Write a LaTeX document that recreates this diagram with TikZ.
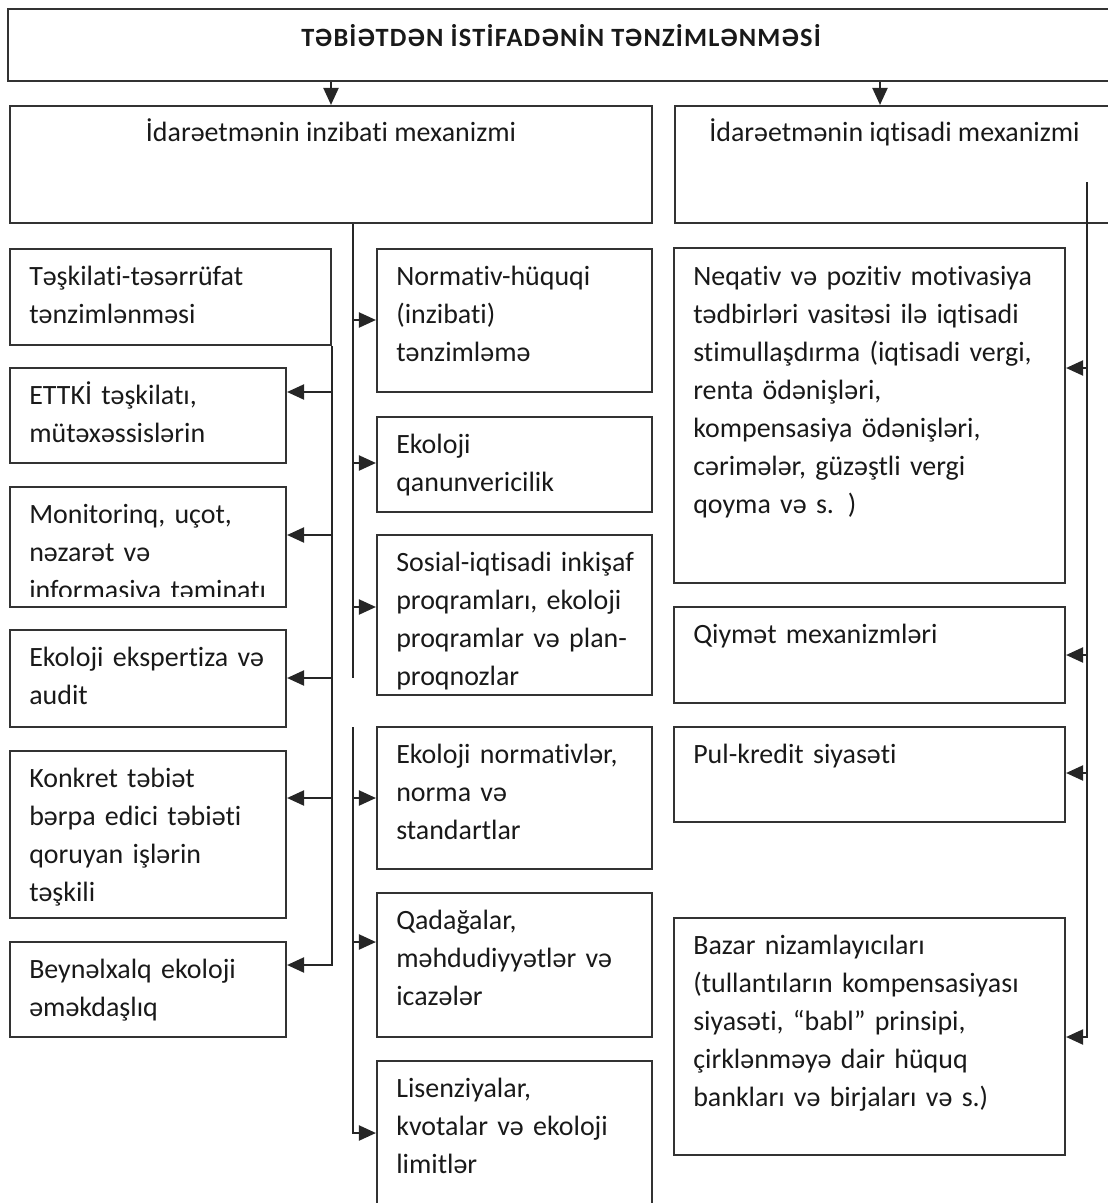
\documentclass[tikz,border=0pt]{standalone}
\usepackage{fontspec}
\setmainfont{Carlito}[Ligatures={NoCommon,NoContextual}]
\usetikzlibrary{arrows.meta,fit,positioning}

\begin{document}
\begin{tikzpicture}[
    x=0.02cm, y=-0.02cm,
    font=\fontsize{15.9}{21.6}\selectfont,
    blk/.style={draw=black!80, line width=1.2pt, rectangle, inner sep=0pt},
    txt/.style={anchor=base west, align=left, text width=7cm, inner sep=0pt, text=black!90},
    hdr/.style={anchor=base, inner sep=0pt, text=black!90},
    arrow/.style={-{Triangle[length=0.34cm,width=0.3cm]}, line width=1.2pt, draw=black!85},
    bus/.style={line width=1.2pt, draw=black!85},
  ]
  \useasboundingbox (0,0) rectangle (1108,1203);

  % top level
  \node[blk, fit={(8,9) (1114,81)}] (title) {};
  \node[hdr, font=\fontsize{15}{18}\selectfont\bfseries\addfontfeature{LetterSpace=4.5}] (title-t) at (561,47) {TƏBİƏTDƏN İSTİFADƏNİN TƏNZİMLƏNMƏSİ};
  \node[blk, fit={(10,106) (652,223)}] (idare) {};
  \node[blk, fit={(675,106) (1114,223)}] (iqtis) {};
  \node[hdr] (idare-t) at ([shift={(0,37)}]idare.north) {İdarəetmənin inzibati mexanizmi};
  \node[hdr] (iqtis-t) at ([shift={(0,37)}]iqtis.north) {İdarəetmənin iqtisadi mexanizmi};

  % left column
  \node[blk, fit={(10,249) (331,345)}] (teskil) {};
  \node[blk, fit={(10,368) (286,463)}] (ettki) {};
  \node[blk, fit={(10,487) (286,607)}] (monit) {};
  \node[blk, fit={(10,630) (286,727)}] (ekspert) {};
  \node[blk, fit={(10,751) (286,918)}] (konkret) {};
  \node[blk, fit={(10,942) (286,1037)}] (beyn) {};

  \node[txt] (teskil-t) at ([shift={(20,38)}]teskil.north west) {Təşkilati-təsərrüfat\\tənzimlənməsi};
  \node[txt] (ettki-t) at ([shift={(20,38)}]ettki.north west) {ETTKİ təşkilatı,\\mütəxəssislərin};
  \begin{scope}
    \clip (monit.north west) rectangle ([shift={(0,-12)}]monit.south east);
    \node[txt] (monit-t) at ([shift={(20,38)}]monit.north west) {Monitorinq, uçot,\\nəzarət və\\informasiya təminatı};
  \end{scope}
  \node[txt] (ekspert-t) at ([shift={(20,38)}]ekspert.north west) {Ekoloji ekspertiza və\\audit};
  \node[txt] (konkret-t) at ([shift={(20,38)}]konkret.north west) {Konkret təbiət\\bərpa edici təbiəti\\qoruyan işlərin\\təşkili};
  \node[txt] (beyn-t) at ([shift={(20,38)}]beyn.north west) {Beynəlxalq ekoloji\\əməkdaşlıq};

  % middle column
  \node[blk, fit={(377,249) (652,392)}] (norm) {};
  \node[blk, fit={(377,417) (652,512)}] (qanun) {};
  \node[blk, fit={(377,535) (652,695)}] (sosial) {};
  \node[blk, fit={(377,727) (652,869)}] (ekonorm) {};
  \node[blk, fit={(377,893) (652,1037)}] (qadaga) {};
  \node[blk, fit={(377,1061) (652,1214)}] (lisenz) {};

  \node[txt] (norm-t) at ([shift={(20,38)}]norm.north west) {Normativ-hüquqi\\(inzibati)\\tənzimləmə};
  \node[txt] (qanun-t) at ([shift={(20,38)}]qanun.north west) {Ekoloji\\qanunvericilik};
  \node[txt] (sosial-t) at ([shift={(20,38)}]sosial.north west) {Sosial-iqtisadi inkişaf\\proqramları, ekoloji\\proqramlar və plan-\\proqnozlar};
  \node[txt] (ekonorm-t) at ([shift={(20,38)}]ekonorm.north west) {Ekoloji normativlər,\\norma və\\standartlar};
  \node[txt] (qadaga-t) at ([shift={(20,38)}]qadaga.north west) {Qadağalar,\\məhdudiyyətlər və\\icazələr};
  \node[txt] (lisenz-t) at ([shift={(20,38)}]lisenz.north west) {Lisenziyalar,\\kvotalar və ekoloji\\limitlər};

  % right column
  \node[blk, fit={(674,248) (1065,583)}] (neqativ) {};
  \node[blk, fit={(674,607) (1065,703)}] (qiymet) {};
  \node[blk, fit={(674,727) (1065,822)}] (pul) {};
  \node[blk, fit={(674,918) (1065,1155)}] (bazar) {};

  \node[txt] (neqativ-t) at ([shift={(20,39)}]neqativ.north west) {Neqativ və pozitiv motivasiya\\tədbirləri vasitəsi ilə iqtisadi\\stimullaşdırma (iqtisadi vergi,\\renta ödənişləri,\\kompensasiya ödənişləri,\\cərimələr, güzəştli vergi\\qoyma və s. )};
  \node[txt] (qiymet-t) at ([shift={(20,38)}]qiymet.north west) {Qiymət mexanizmləri};
  \node[txt] (pul-t) at ([shift={(20,38)}]pul.north west) {Pul-kredit siyasəti};
  \node[txt] (bazar-t) at ([shift={(20,38)}]bazar.north west) {Bazar nizamlayıcıları\\(tullantıların kompensasiyası\\siyasəti, “babl” prinsipi,\\çirklənməyə dair hüquq\\bankları və birjaları və s.)};

  % connectors
  \coordinate (qx) at (880,0);
  \draw[arrow] (title.south -| idare.north) -- (idare.north);
  \draw[arrow] (title.south -| qx) -- (iqtis.north -| qx);

  \draw[arrow] (teskil.south east) |- (beyn.east |- 0,965);
  \foreach \nm/\yy in {ettki/392, monit/535, ekspert/678, konkret/798}
    \draw[arrow] (teskil.east |- 0,\yy) -- (\nm.east |- 0,\yy);

  \coordinate (mtop) at (idare.south -| 353,0);
  \coordinate (mend) at (353,678);
  \coordinate (mtop2) at (353,727);
  \draw[bus] (mtop) -- (mend);
  \foreach \nm/\yy in {norm/320, qanun/463, sosial/607}
    \draw[arrow] (mtop |- 0,\yy) -- (\nm.west |- 0,\yy);
  \draw[arrow] (mtop2) |- (lisenz.west |- 0,1133);
  \foreach \nm/\yy in {ekonorm/798, qadaga/942}
    \draw[arrow] (mtop2 |- 0,\yy) -- (\nm.west |- 0,\yy);

  \coordinate (rtop) at (1087,182);
  \draw[arrow] (rtop) |- (bazar.east |- 0,1037);
  \foreach \nm/\yy in {neqativ/368, qiymet/655, pul/773}
    \draw[arrow] (rtop |- 0,\yy) -- (\nm.east |- 0,\yy);
\end{tikzpicture}
\end{document}
